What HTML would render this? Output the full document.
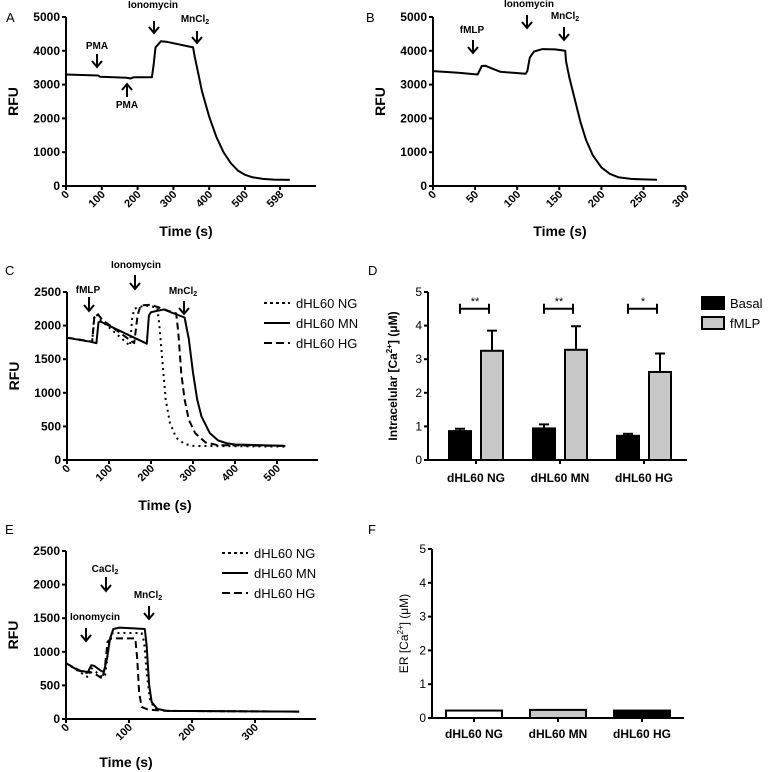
<!DOCTYPE html>
<html><head><meta charset="utf-8"><style>
body{margin:0;background:#fff}
svg{display:block;font-family:"Liberation Sans",Arial,sans-serif}
</style></head><body>
<svg id="fig" width="768" height="772" viewBox="0 0 768 772" xmlns="http://www.w3.org/2000/svg"></svg>
<script>
// ---- Panel A data ----
const aTime=[0,90,95,170,180,190,240,245,250,265,280,355,360,370,380,400,420,440,460,480,500,520,550,580,625];
const aRFU=[3300,3270,3230,3200,3180,3220,3220,3600,4100,4280,4270,4100,3800,3300,2800,2050,1450,1000,680,460,330,260,210,190,180];
const aTicks=[0,100,200,300,400,500,598];
// ---- Panel B data ----
const bTime=[0,30,53,55,58,62,70,80,95,110,112,115,120,130,145,157,158,162,168,175,182,190,200,210,220,235,250,266];
const bRFU=[3400,3350,3300,3400,3550,3560,3480,3380,3350,3320,3400,3800,3980,4050,4040,4000,3700,3200,2600,1900,1350,900,550,360,260,210,195,185];
const bTicks=[0,50,100,150,200,250,300];
// ---- Panel C data ----
const cMNt=[0,55,70,75,80,190,195,200,230,280,290,300,310,320,340,360,380,400,520];
const cMNv=[1820,1760,1740,2050,2060,1730,2150,2200,2240,2120,1800,1300,900,650,400,290,250,230,210];
const cNGt=[0,55,60,65,70,80,150,155,160,185,215,220,228,235,245,260,280,300,520];
const cNGv=[1820,1760,1770,2150,2170,2080,1700,2100,2250,2300,2270,2000,1400,900,550,330,240,210,200];
const cHGt=[0,60,65,72,85,160,168,175,200,260,265,272,280,290,305,330,360,520];
const cHGv=[1820,1760,2120,2180,2080,1740,2150,2300,2310,2180,1900,1300,900,600,400,260,220,210];
const cTicks=[0,100,200,300,400,500];
// ---- Panel D data ----
const dCats=["dHL60 NG","dHL60 MN","dHL60 HG"];
const dBasal=[0.86,0.94,0.72];
const dBasalErr=[0.07,0.12,0.06];
const dFmlp=[3.25,3.28,2.62];
const dFmlpErr=[0.6,0.7,0.55];
const dStars=["**","**","*"];
const dTicks=[0,1,2,3,4,5];
// ---- Panel E data ----
const eMNt=[0,20,35,40,45,55,60,65,70,75,85,125,128,132,136,145,160,370];
const eMNv=[830,720,700,800,790,720,700,900,1200,1340,1360,1340,1100,500,250,150,120,110];
const eNGt=[0,30,35,40,58,62,68,74,120,124,128,133,140,160,370];
const eNGv=[830,650,620,760,620,650,1100,1280,1280,1150,700,300,160,120,110];
const eHGt=[0,30,38,45,58,62,66,72,110,113,116,120,130,160,370];
const eHGv=[830,680,700,680,600,800,1150,1200,1200,900,400,180,140,120,110];
const eTicks=[0,100,200,300];
// ---- Panel F data ----
const fCats=["dHL60 NG","dHL60 MN","dHL60 HG"];
const fVals=[0.22,0.24,0.22];
const fFills=["#fff","#c8c8c8","#000"];

const NS="http://www.w3.org/2000/svg";
const svg=document.getElementById('fig');
function mk(tag,attrs,parent,txt){const e=document.createElementNS(NS,tag);for(const k in attrs)e.setAttribute(k,attrs[k]);if(txt!==undefined)e.textContent=txt;(parent||svg).appendChild(e);return e;}
function lin(d0,d1,r0,r1){return v=>r0+(v-d0)*(r1-r0)/(d1-d0);}

function panelLetter(t,x,y){const e=mk('text',{x:x,y:y,'font-size':13},svg,t);

}

function drawLineChart(o){
  const g=mk('g',{});
  
  
  const sx=lin(0,o.xUnit,o.x0,o.x0+o.pxPerUnit*o.xUnit),sy=lin(0,o.ymax,o.y0,o.yTop);
  const ya=mk('line',{x1:o.x0,y1:o.y0+1,x2:o.x0,y2:o.yTop,stroke:'#000','stroke-width':2},g);
  
  
  o.yTicks.forEach(v=>{const y=sy(v);mk('line',{x1:o.x0-4,y1:y,x2:o.x0,y2:y,stroke:'#000','stroke-width':2},g);
    const t=mk('text',{x:o.x0-6,y:y+4,'font-size':12,'font-weight':'bold','text-anchor':'end'},g,v);
    
    });
  const xa=mk('line',{x1:o.x0-1,y1:o.y0,x2:o.xEnd,y2:o.y0,stroke:'#000','stroke-width':2},g);
  
  
  o.xTicks.forEach(v=>{const x=sx(v);mk('line',{x1:x,y1:o.y0,x2:x,y2:o.y0+4,stroke:'#000','stroke-width':2},g);
    const t=mk('text',{x:0,y:0,'font-size':11,'font-weight':'bold','text-anchor':'end',transform:`translate(${x+4},${o.y0+9}) rotate(-45)`},g,v);
    
    });
  const yt=mk('text',{x:0,y:0,'font-size':14,'font-weight':'bold','text-anchor':'middle',transform:`translate(${o.x0-48},${(o.y0+o.yTop)/2}) rotate(-90)`},g,'RFU');
  
  
  const xt=mk('text',{x:o.timeX,y:o.y0+o.timeOff,'font-size':14,'font-weight':'bold','text-anchor':'middle'},g,'Time (s)');
  
  
  o.series.forEach(s=>{
    const d=s.t.map((t,i)=>(i?'L':'M')+sx(t).toFixed(1)+','+sy(s.v[i]).toFixed(1)).join('');
    const p=mk('path',{d:d,fill:'none',stroke:'#000','stroke-width':2,'stroke-dasharray':s.dash||'none','stroke-linejoin':'round'},g);
    
    
  });
  return g;
}

function arrow(x,y1,y2,label,lx,ly,sub){
  const g=mk('g',{});
  
  
  const dir=y2>y1?1:-1;
  mk('line',{x1:x,y1:y1,x2:x,y2:y2,stroke:'#000','stroke-width':2},g);
  mk('path',{d:`M${x-5},${y2-6*dir}L${x},${y2}L${x+5},${y2-6*dir}`,fill:'none',stroke:'#000','stroke-width':2},g);
  const t=mk('text',{x:lx,y:ly,'font-size':10,'font-weight':'bold','text-anchor':'middle'},g,label);
  if(sub){mk('tspan',{'font-size':7,dy:2},t,'2');}
}

function legendLines(x,y,gap,id){
  const g=mk('g',{});
  
  
  [['dHL60 NG','3,3'],['dHL60 MN','none'],['dHL60 HG','8,4']].forEach((e,i)=>{
    const gg=mk('g',{},g);
    
    
    mk('line',{x1:x,y1:y+i*gap,x2:x+26,y2:y+i*gap,stroke:'#000','stroke-width':2,'stroke-dasharray':e[1]},gg);
    mk('text',{x:x+32,y:y+i*gap+5,'font-size':13},gg,e[0]);
  });
}

// ===== Panel A =====
panelLetter('A',6,22);
drawLineChart({id:'panel-a-chart',x0:66,y0:186,yTop:17,ymax:5000,xUnit:100,pxPerUnit:0.358,xEnd:316,
  xTicks:aTicks,yTicks:[0,1000,2000,3000,4000,5000],timeX:186,timeOff:50,
  series:[{t:aTime,v:aRFU,name:'trace-a'}]});
arrow(97,54,67,'PMA',97,49);
arrow(127,97,84,'PMA',127,108);
arrow(154,21,33,'Ionomycin',153,8);
arrow(197,31,43,'MnCl',195,22,true);

// ===== Panel B =====
panelLetter('B',366,22);
drawLineChart({id:'panel-b-chart',x0:433,y0:186,yTop:17,ymax:5000,xUnit:100,pxPerUnit:0.842,xEnd:686,
  xTicks:bTicks,yTicks:[0,1000,2000,3000,4000,5000],timeX:560,timeOff:50,
  series:[{t:bTime,v:bRFU,name:'trace-b'}]});
arrow(473,40,53,'fMLP',472,33);
arrow(527,15,28,'Ionomycin',529,7);
arrow(564,27,40,'MnCl',565,19,true);

// ===== Panel C =====
panelLetter('C',5,275);
drawLineChart({id:'panel-c-chart',x0:67,y0:460,yTop:292,ymax:2500,xUnit:100,pxPerUnit:0.42,xEnd:318,
  xTicks:cTicks,yTicks:[0,500,1000,1500,2000,2500],timeX:165,timeOff:50,
  series:[{t:cNGt,v:cNGv,dash:'2,4',name:'line-ng'},{t:cMNt,v:cMNv,name:'line-mn'},{t:cHGt,v:cHGv,dash:'7,4',name:'line-hg'}]});
arrow(89,297,311,'fMLP',88,293);
arrow(135,275,289,'Ionomycin',136,268);
arrow(184,301,314,'MnCl',183,294,true);
legendLines(264,303,20,'legend-c');

// ===== Panel D =====
panelLetter('D',368,275);
(function(){
  const g=mk('g',{});
  
  
  const x0=428,y0=460,yTop=292,xEnd=687;
  const sy=lin(0,5,y0,yTop);
  const centers=dCats.map((c,i)=>476+i*84);
  mk('line',{x1:x0,y1:y0+1,x2:x0,y2:yTop,stroke:'#000','stroke-width':2},g);
  mk('line',{x1:x0-1,y1:y0,x2:xEnd,y2:y0,stroke:'#000','stroke-width':2},g);
  dTicks.forEach(v=>{mk('line',{x1:x0-4,y1:sy(v),x2:x0,y2:sy(v),stroke:'#000','stroke-width':2},g);
    mk('text',{x:x0-6,y:sy(v)+4,'font-size':12,'text-anchor':'end'},g,v);});
  const yt=mk('text',{x:0,y:0,'font-size':12,'font-weight':'bold','text-anchor':'middle',transform:`translate(${x0-31},${(y0+yTop)/2}) rotate(-90)`},g);
  yt.innerHTML='Intracelular [Ca<tspan font-size="8" dy="-5">2+</tspan><tspan dy="5">] (μM)</tspan>';
  
  
  dCats.forEach((c,i)=>{
    const cx=centers[i];
    mk('line',{x1:cx,y1:y0,x2:cx,y2:y0+4,stroke:'#000','stroke-width':2},g);
    const t=mk('text',{x:cx,y:y0+22,'font-size':12,'font-weight':'bold','text-anchor':'middle'},g,c);
    
    
    [[dBasal[i],dBasalErr[i],cx-27,'#000','bar-basal'],[dFmlp[i],dFmlpErr[i],cx+5,'#c8c8c8','bar-fmlp']].forEach(b=>{
      const top=sy(b[0]);
      mk('line',{x1:b[2]+11,y1:top,x2:b[2]+11,y2:sy(b[0]+b[1]),stroke:'#000','stroke-width':2},g);
      mk('line',{x1:b[2]+6,y1:sy(b[0]+b[1]),x2:b[2]+16,y2:sy(b[0]+b[1]),stroke:'#000','stroke-width':2},g);
      const r=mk('rect',{x:b[2],y:top,width:22,height:y0-top,fill:b[3],stroke:'#000','stroke-width':2},g);
      
      
    });
    const by=sy(4.5);
    const br=mk('path',{d:`M${cx-16},${by-5}V${by+5}M${cx-16},${by}H${cx+13}M${cx+13},${by-5}V${by+5}`,stroke:'#000','stroke-width':2,fill:'none'},g);
    
    
    mk('text',{x:cx-1,y:by-4,'font-size':11,'text-anchor':'middle'},g,dStars[i]);
  });
  const lg=mk('g',{});
  
  
  [['Basal','#000',297],['fMLP','#c8c8c8',317]].forEach(e=>{
    mk('rect',{x:702,y:e[2],width:22,height:12,fill:e[1],stroke:'#000','stroke-width':2},lg);
    mk('text',{x:730,y:e[2]+11,'font-size':13},lg,e[0]);
  });
})();

// ===== Panel E =====
panelLetter('E',5,534);
drawLineChart({id:'panel-e-chart',x0:66,y0:719,yTop:551,ymax:2500,xUnit:100,pxPerUnit:0.63,xEnd:316,
  xTicks:eTicks,yTicks:[0,500,1000,1500,2000,2500],timeX:126,timeOff:48,
  series:[{t:eNGt,v:eNGv,dash:'2,4',name:'line-ng'},{t:eMNt,v:eMNv,name:'line-mn'},{t:eHGt,v:eHGv,dash:'7,4',name:'line-hg'}]});
arrow(86,628,641,'Ionomycin',95,620);
arrow(106,577,591,'CaCl',105,572,true);
arrow(149,606,619,'MnCl',148,598,true);
legendLines(222,553,20,'legend-e');

// ===== Panel F =====
panelLetter('F',368,534);
(function(){
  const g=mk('g',{});
  
  
  const x0=432,y0=718,yTop=549,xEnd=684;
  const sy=lin(0,5,y0,yTop);
  mk('line',{x1:x0,y1:y0+1,x2:x0,y2:yTop,stroke:'#000','stroke-width':2},g);
  mk('line',{x1:x0-1,y1:y0,x2:xEnd,y2:y0,stroke:'#000','stroke-width':2},g);
  dTicks.forEach(v=>{mk('line',{x1:x0-4,y1:sy(v),x2:x0,y2:sy(v),stroke:'#000','stroke-width':2},g);
    mk('text',{x:x0-6,y:sy(v)+4,'font-size':12,'text-anchor':'end'},g,v);});
  const yt=mk('text',{x:0,y:0,'font-size':12,'text-anchor':'middle',transform:`translate(${x0-24},${(y0+yTop)/2}) rotate(-90)`},g);
  yt.innerHTML='ER [Ca<tspan font-size="8" dy="-5">2+</tspan><tspan dy="5">] (μM)</tspan>';
  
  
  fCats.forEach((c,i)=>{
    const cx=474+i*84;
    const top=sy(fVals[i]);
    const r=mk('rect',{x:cx-28,y:top,width:56,height:y0-top,fill:fFills[i],stroke:'#000','stroke-width':2},g);
    
    
    mk('line',{x1:cx,y1:y0,x2:cx,y2:y0+4,stroke:'#000','stroke-width':2},g);
    const t=mk('text',{x:cx,y:y0+20,'font-size':12,'font-weight':'bold','text-anchor':'middle'},g,c);
    
    
  });
})();
</script>
</body></html>
